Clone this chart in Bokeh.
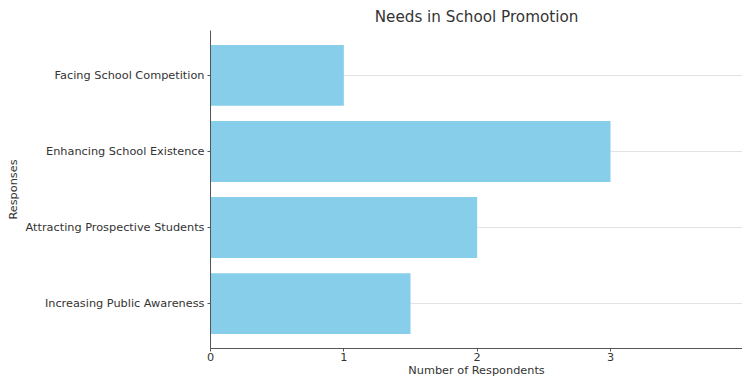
from bokeh.plotting import figure
from bokeh.models import Range1d, FixedTicker, ColumnDataSource
from bokeh.embed import file_html
from bokeh.resources import INLINE

categories = ["Increasing Public Awareness", "Attracting Prospective Students",
              "Enhancing School Existence", "Facing School Competition"]
respondents = [1.5, 2, 3, 1]
x_ticks = [0, 1, 2, 3, 4]

pos = list(range(len(categories)))
src = ColumnDataSource(dict(y=pos, right=respondents, cat=categories))

FONT = "DejaVu Sans"
p = figure(width=742, height=379, output_backend="svg", toolbar_location=None,
           x_range=Range1d(0, 3.99), y_range=Range1d(-0.59, len(categories) - 1 + 0.59),
           min_border_left=210, min_border_right=0, min_border_top=30, min_border_bottom=0,
           title="Needs in School Promotion")
p.hbar(y="y", right="right", left=0, height=0.8, source=src, color="#87CEEB", line_color=None)

p.title.align = "center"
p.title.text_font = FONT
p.title.text_font_size = "15.2px"
p.title.text_font_style = "normal"
p.title.text_color = "#333333"
p.title.offset = 0

p.outline_line_color = None
p.xgrid.grid_line_color = None
p.ygrid.grid_line_color = "#e3e3e3"
p.ygrid.grid_line_width = 1

p.xaxis.ticker = FixedTicker(ticks=x_ticks)
p.yaxis.ticker = FixedTicker(ticks=pos)
p.yaxis.major_label_overrides = {i: c for i, c in enumerate(categories)}

for ax in (p.xaxis[0], p.yaxis[0]):
    ax.axis_line_color = "#555555"
    ax.major_tick_line_color = "#555555"
    ax.major_tick_in = 0
    ax.major_tick_out = 3
    ax.minor_tick_line_color = None
    ax.major_label_text_font = FONT
    ax.major_label_text_font_size = "11.3px"
    ax.major_label_text_color = "#333333"
    ax.axis_label_text_font = FONT
    ax.axis_label_text_font_size = "11.3px"
    ax.axis_label_text_font_style = "normal"
    ax.axis_label_text_color = "#333333"
    ax.major_label_standoff = 3
    ax.axis_label_standoff = 3

p.xaxis.major_label_standoff = 1
p.xaxis.axis_label_standoff = 0

p.xaxis.axis_label = "Number of Respondents"
p.yaxis.axis_label = "Responses"

open("out.html", "w").write(file_html(p, INLINE))
